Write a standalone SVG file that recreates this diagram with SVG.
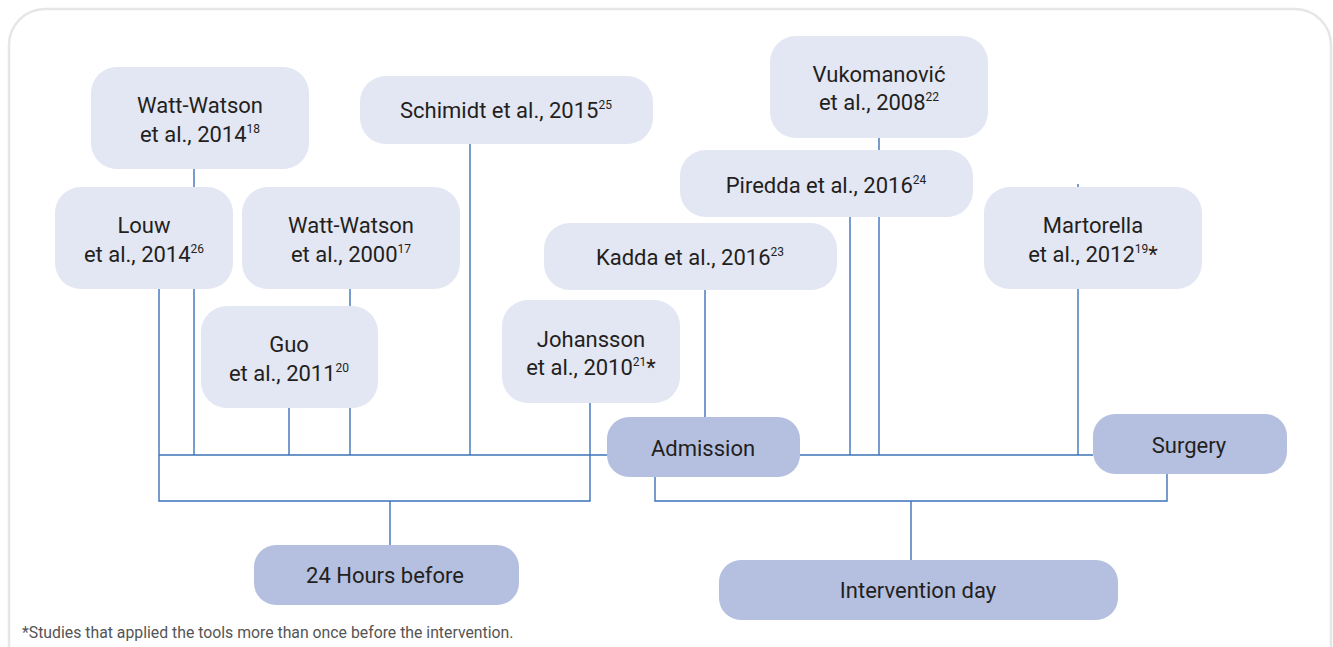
<svg xmlns="http://www.w3.org/2000/svg" width="1333" height="647" viewBox="0 0 1333 647">
<style>
.frame{fill:#fff;stroke:#e6e6e6;stroke-width:2.5}
.lt{fill:#e3e6f3}
.dk{fill:#b5c0e0}
.ln{fill:none;stroke:#3b73b9;stroke-width:1.4}
text{font-family:Roboto,"Liberation Sans",sans-serif;font-size:22px;fill:#231f20;text-anchor:middle}
.sup{font-size:12px}
.note{font-size:15.8px;fill:#555;text-anchor:start}
</style>
<rect class="frame" x="9" y="9" width="1322" height="680" rx="36"/>
<g id="connectors">
<path class="ln" d="M159 455H1093"/>
<path class="ln" d="M159 289V501H590V403M390 501V545"/>
<path class="ln" d="M194 169V455"/>
<path class="ln" d="M350 289V455"/>
<path class="ln" d="M289 408V455"/>
<path class="ln" d="M470 144V455"/>
<path class="ln" d="M705 290V417"/>
<path class="ln" d="M850 217V455"/>
<path class="ln" d="M879 138V455"/>
<path class="ln" d="M1078 184V455"/>
<path class="ln" d="M655 477V501H1167V474M911 501V560"/>
</g>
<g id="watt2014"><rect class="lt" x="91" y="67" width="218" height="102" rx="26"/>
<text><tspan x="200" y="113">Watt-Watson</tspan><tspan x="200" y="142">et al., 2014<tspan class="sup" dy="-9">18</tspan></tspan></text></g>
<g id="louw"><rect class="lt" x="55" y="187" width="178" height="102" rx="26"/>
<text><tspan x="144" y="233">Louw</tspan><tspan x="144" y="262">et al., 2014<tspan class="sup" dy="-9">26</tspan></tspan></text></g>
<g id="watt2000"><rect class="lt" x="242" y="187" width="218" height="102" rx="26"/>
<text><tspan x="351" y="233">Watt-Watson</tspan><tspan x="351" y="262">et al., 2000<tspan class="sup" dy="-9">17</tspan></tspan></text></g>
<g id="schimidt"><rect class="lt" x="360" y="76" width="293" height="68" rx="26"/>
<text><tspan x="506" y="118">Schimidt et al., 2015<tspan class="sup" dy="-9">25</tspan></tspan></text></g>
<g id="vukomanovic"><rect class="lt" x="770" y="36" width="218" height="102" rx="26"/>
<text><tspan x="879" y="82">Vukomanović</tspan><tspan x="879" y="110">et al., 2008<tspan class="sup" dy="-9">22</tspan></tspan></text></g>
<g id="piredda"><rect class="lt" x="680" y="150" width="293" height="67" rx="26"/>
<text><tspan x="826" y="193">Piredda et al., 2016<tspan class="sup" dy="-9">24</tspan></tspan></text></g>
<g id="kadda"><rect class="lt" x="544" y="223" width="293" height="67" rx="26"/>
<text><tspan x="690" y="265">Kadda et al., 2016<tspan class="sup" dy="-9">23</tspan></tspan></text></g>
<g id="martorella"><rect class="lt" x="984" y="187" width="218" height="102" rx="26"/>
<text><tspan x="1093" y="233">Martorella</tspan><tspan x="1093" y="262">et al., 2012<tspan class="sup" dy="-9">19</tspan><tspan dy="9">*</tspan></tspan></text></g>
<g id="guo"><rect class="lt" x="201" y="306" width="177" height="102" rx="26"/>
<text><tspan x="289" y="352">Guo</tspan><tspan x="289" y="381">et al., 2011<tspan class="sup" dy="-9">20</tspan></tspan></text></g>
<g id="johansson"><rect class="lt" x="502" y="300" width="178" height="103" rx="26"/>
<text><tspan x="591" y="347">Johansson</tspan><tspan x="591" y="375">et al., 2010<tspan class="sup" dy="-9">21</tspan><tspan dy="9">*</tspan></tspan></text></g>
<g id="admission"><rect class="dk" x="607" y="417" width="193" height="60" rx="22"/>
<text x="703" y="456">Admission</text></g>
<g id="surgery"><rect class="dk" x="1093" y="414" width="194" height="60" rx="22"/>
<text x="1189" y="453">Surgery</text></g>
<g id="hours24"><rect class="dk" x="254" y="545" width="265" height="60" rx="22"/>
<text x="385" y="583">24 Hours before</text></g>
<g id="intervention"><rect class="dk" x="719" y="560" width="399" height="60" rx="22"/>
<text x="918" y="598">Intervention day</text></g>
<text class="note" x="22" y="638">*Studies that applied the tools more than once before the intervention.</text>
</svg>
